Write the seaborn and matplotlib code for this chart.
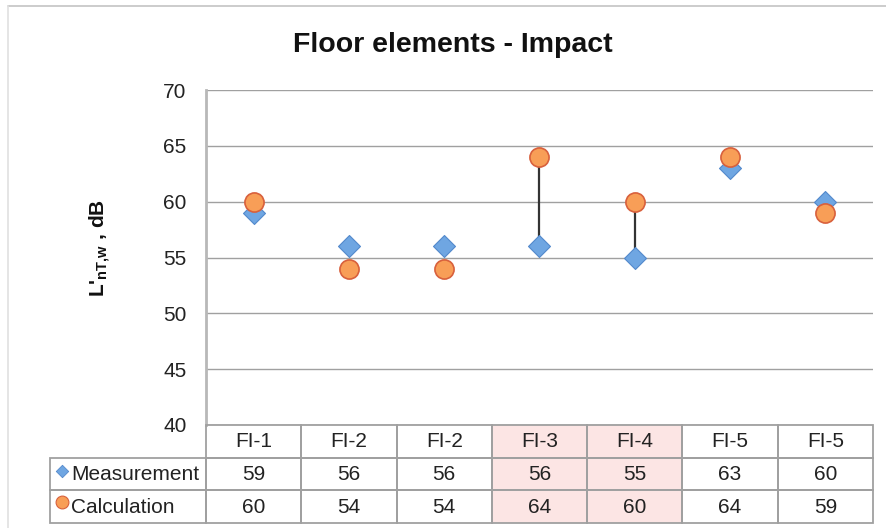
import numpy as np
import pandas as pd
import matplotlib
matplotlib.use("Agg")
import matplotlib.pyplot as plt
import seaborn as sns
from matplotlib.patches import Rectangle
from matplotlib.lines import Line2D

# Floor elements and their impact sound levels L'nT,w (dB)
elements = ["FI-1", "FI-2", "FI-2", "FI-3", "FI-4", "FI-5", "FI-5"]
measurement = [59, 56, 56, 56, 55, 63, 60]
calculation = [60, 54, 54, 64, 60, 64, 59]
highlighted = [False, False, False, True, True, False, False]
y_ticks = [40, 45, 50, 55, 60, 65, 70]
series_names = ["Measurement", "Calculation"]

sns.set_theme(style="white")
plt.rcParams["font.family"] = ["Liberation Sans", "DejaVu Sans"]
plt.rcParams["mathtext.fontset"] = "custom"
plt.rcParams["mathtext.rm"] = "Liberation Sans"
plt.rcParams["mathtext.bf"] = "Liberation Sans:bold"

BLUE, BLUE_EDGE = "#6FA6E2", "#5389CC"
ORANGE, ORANGE_EDGE = "#F89E57", "#D8603C"
GRID = "#a0a0a0"

W, H = 887, 528
fig = plt.figure(figsize=(W / 100, H / 100), dpi=100)
fig.patch.set_facecolor("white")


def frac(x0, y0, x1, y1):
    return [x0 / W, 1 - y1 / H, (x1 - x0) / W, (y1 - y0) / H]


n = len(elements)
slots = np.arange(n)
df = pd.DataFrame({
    "slot": np.concatenate([slots, slots]),
    "value": measurement + calculation,
    "series": [series_names[0]] * n + [series_names[1]] * n,
})

ax = fig.add_axes(frac(206, 90, 873, 425))

# connectors for the flagged elements
hl = np.array(highlighted)
ax.vlines(slots[hl], np.array(measurement)[hl], np.array(calculation)[hl],
          color="#333333", lw=1.6, zorder=2)

sns.scatterplot(data=df[df.series == "Measurement"], x="slot", y="value",
                marker="D", s=125, color=BLUE, edgecolor=BLUE_EDGE,
                linewidth=0.8, ax=ax, zorder=3, legend=False)
sns.scatterplot(data=df[df.series == "Calculation"], x="slot", y="value",
                marker="o", s=190, color=ORANGE, edgecolor=ORANGE_EDGE,
                linewidth=1.2, ax=ax, zorder=4, legend=False)

ax.set_xlim(-0.5, n - 0.5)
ax.set_ylim(40, 70)
ax.set_yticks(y_ticks)
ax.set_xticks([])
ax.set_xlabel("")
ax.set_ylabel("")
ax.yaxis.grid(True, color=GRID, lw=1)
ax.set_axisbelow(True)
for side in ["top", "right", "bottom"]:
    ax.spines[side].set_visible(False)
ax.spines["left"].set_color("#b8b8b8")
ax.spines["left"].set_linewidth(2)
ax.tick_params(axis="y", length=0, pad=14, labelsize=15, labelcolor="#222222")

fig.text(100 / W, 1 - 248 / H, "L'" + r"$\mathbf{_{nT{,}w}}$" + " , dB",
         rotation=90, ha="center", va="center", fontsize=15,
         fontweight="bold", color="#111111")
fig.text(453 / W, 1 - 45 / H, "Floor elements - Impact", ha="center",
         va="center", fontsize=20.5, fontweight="bold", color="#111111")

# data table beneath the plot
tab = fig.add_axes(frac(50, 425, 873, 523))
colw = (873 - 206) / n
lc = (206 - 50) / colw
tab.set_xlim(-0.5 - lc, n - 0.5)
tab.set_ylim(3, 0)
tab.axis("off")

for i in range(n):
    if highlighted[i]:
        tab.add_patch(Rectangle((i - 0.5, 0), 1, 3, facecolor="#FCE5E4",
                                edgecolor="none", zorder=1, clip_on=False))
for i in range(n):
    for r in range(3):
        tab.add_patch(Rectangle((i - 0.5, r), 1, 1, facecolor="none",
                                edgecolor=GRID, lw=1.3, zorder=2, clip_on=False))
for r in (1, 2):
    tab.add_patch(Rectangle((-0.5 - lc, r), lc, 1, facecolor="none",
                            edgecolor=GRID, lw=1.3, zorder=2, clip_on=False))

for i in range(n):
    tab.text(i, 0.52, elements[i], ha="center", va="center", fontsize=15,
             color="#222222")
    tab.text(i, 1.52, f"{measurement[i]}", ha="center", va="center",
             fontsize=15, color="#222222")
    tab.text(i, 2.52, f"{calculation[i]}", ha="center", va="center",
             fontsize=15, color="#222222")

key_x = -0.5 - lc + 12 / colw
tab.scatter([key_x], [1.4], marker="D", s=40, color=BLUE, edgecolor=BLUE_EDGE,
            linewidth=0.6, zorder=3, clip_on=False)
tab.scatter([key_x], [2.35], marker="o", s=85, color=ORANGE,
            edgecolor=ORANGE_EDGE, linewidth=0.8, zorder=3, clip_on=False)
text_x = -0.5 - lc + 21 / colw
tab.text(text_x, 1.52, series_names[0], ha="left", va="center", fontsize=15,
         color="#222222")
tab.text(text_x, 2.52, series_names[1], ha="left", va="center", fontsize=15,
         color="#222222")

# chart frame
fig.add_artist(Line2D([8 / W, 1], [1 - 6 / H] * 2, color="#c4c4c4", lw=1.2,
                      transform=fig.transFigure))
fig.add_artist(Line2D([8 / W] * 2, [0, 1 - 6 / H], color="#e0e0e0", lw=1.2,
                      transform=fig.transFigure))

fig.savefig("out.png", dpi=100)
